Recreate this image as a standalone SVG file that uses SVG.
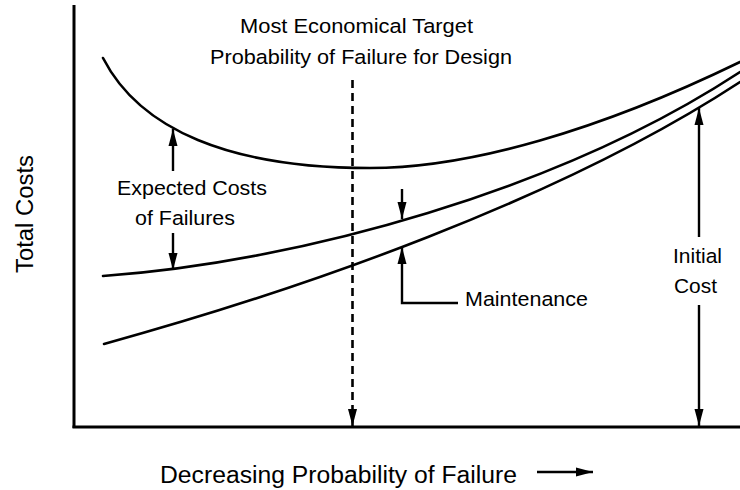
<svg xmlns="http://www.w3.org/2000/svg" width="740" height="490" viewBox="0 0 740 490">
<style>
  text { font-family: "Liberation Sans", Arial, Helvetica, sans-serif; fill: #000; }
  .lbl { font-size: 20.5px; }
  .axl { font-size: 23.5px; }
  .curve { fill: none; stroke: #000; stroke-width: 2.6; stroke-linecap: round; }
  .axis { fill: none; stroke: #000; stroke-width: 3; }
  .arr { fill: none; stroke: #000; stroke-width: 2.4; marker-end: url(#ah); }
  .dash { fill: none; stroke: #000; stroke-width: 2.6; stroke-dasharray: 8 5; marker-end: url(#ah); }
</style>
<defs>
  <marker id="ah" markerUnits="userSpaceOnUse" markerWidth="18" markerHeight="12" viewBox="0 0 18 10" refX="17" refY="5" orient="auto">
    <path d="M0,0.5 L17,5 L0,9.5 z" fill="#000"/>
  </marker>
</defs>
<rect width="740" height="490" fill="#fff"/>

<g id="axes">
  <line class="axis" x1="74" y1="5" x2="74" y2="428"/>
  <line class="axis" x1="72.5" y1="427" x2="740" y2="427"/>
</g>

<g id="curves">
  <path id="total-cost" class="curve" d="M103,58 C140,130 230,168 370,168 C470,168 600,130 740,62"/>
  <path id="maintenance-cost" class="curve" d="M103,276 C300,262 560,190 740,72"/>
  <path id="initial-cost" class="curve" d="M104,344 C300,290 560,200 740,82"/>
</g>

<g id="connectors">
  <line class="dash" x1="352.5" y1="80" x2="352.5" y2="426"/>
  <line class="arr" x1="173" y1="171" x2="173" y2="129"/>
  <line class="arr" x1="173" y1="233" x2="173" y2="270"/>
  <line class="arr" x1="402" y1="189" x2="402" y2="219"/>
  <path class="arr" d="M458,303 H402 V247"/>
  <line class="arr" x1="699" y1="237" x2="699" y2="108"/>
  <line class="arr" x1="699" y1="305" x2="699" y2="426"/>
  <line class="arr" x1="537" y1="472" x2="593" y2="472"/>
</g>

<g id="labels">
  <text class="lbl" x="240" y="33" textLength="233" lengthAdjust="spacingAndGlyphs">Most Economical Target</text>
  <text class="lbl" x="210" y="64" textLength="302" lengthAdjust="spacingAndGlyphs">Probability of Failure for Design</text>
  <text class="lbl" x="117" y="195" textLength="150" lengthAdjust="spacingAndGlyphs">Expected Costs</text>
  <text class="lbl" x="135" y="225" textLength="100" lengthAdjust="spacingAndGlyphs">of Failures</text>
  <text class="lbl" x="465" y="306" textLength="123" lengthAdjust="spacingAndGlyphs">Maintenance</text>
  <text class="lbl" x="673" y="263" textLength="49" lengthAdjust="spacingAndGlyphs">Initial</text>
  <text class="lbl" x="674" y="293" textLength="43" lengthAdjust="spacingAndGlyphs">Cost</text>
  <text class="axl" transform="translate(33,273) rotate(-90)" x="0" y="0" textLength="118" lengthAdjust="spacingAndGlyphs">Total Costs</text>
  <text class="axl" x="160" y="483" textLength="357" lengthAdjust="spacingAndGlyphs">Decreasing Probability of Failure</text>
</g>
</svg>
